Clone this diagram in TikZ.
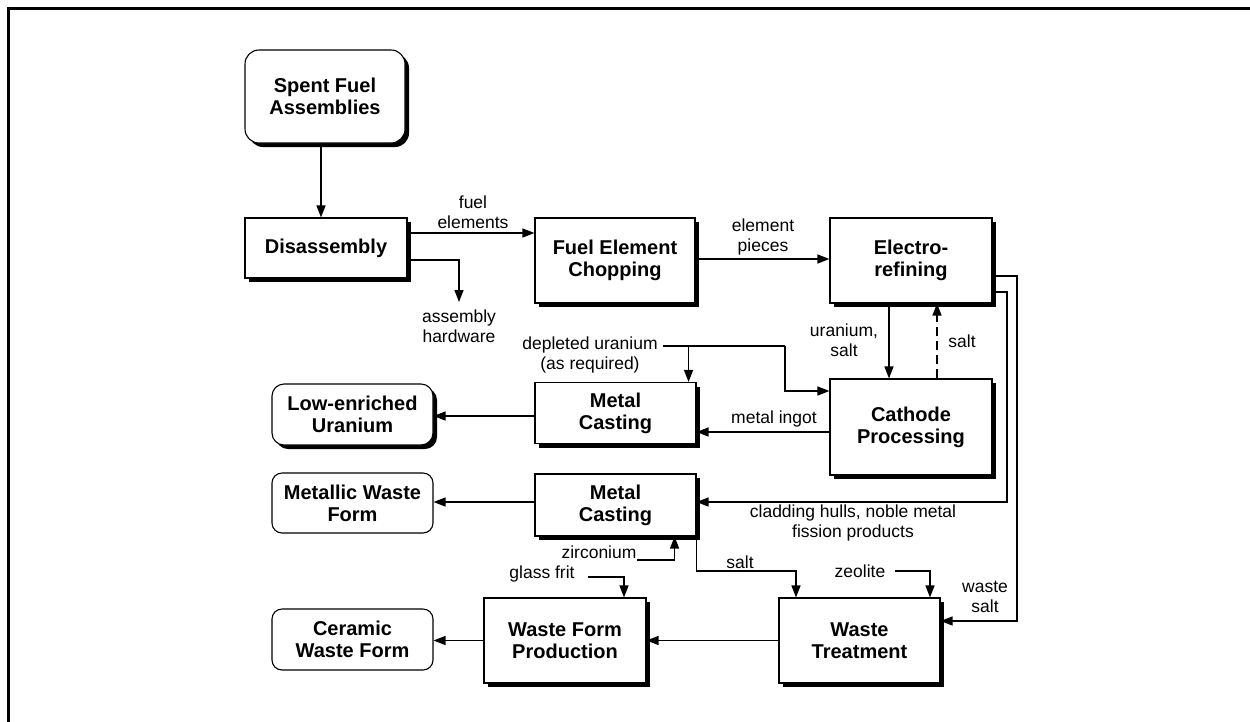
\documentclass[tikz,border=0pt]{standalone}
\usepackage{fontspec}
\setmainfont{Liberation Sans}
\usetikzlibrary{shadows,arrows.meta}
\newcommand\tfnt{\fontsize{20}{22}\selectfont\bfseries}
\newcommand\lfnt{\fontsize{17.5}{19.5}\selectfont}
\tikzset{
  box/.style={draw, line width=1.1pt, fill=white, align=center, font=\tfnt, minimum width=161pt, inner sep=0pt},
  sh/.style={drop shadow={shadow xshift=4pt,shadow yshift=-4pt,opacity=1,fill=black}},
  lbl/.style={align=center, inner sep=0pt, font=\lfnt},
  arr/.style={line width=1.4pt, -{Triangle[length=12pt,width=9pt]}},
}
\begin{document}
\begin{tikzpicture}[x=1pt,y=-1pt]
\useasboundingbox (0,0) rectangle (1250,721);
\draw[line width=3pt] (8.5,725) -- (8.5,8.5) -- (1255,8.5);

% boxes
\node[box,sh,rounded corners=14pt,minimum width=160pt,minimum height=93pt] (spent) at (325,96.5) {Spent Fuel\\Assemblies};
\node[box,sh,minimum width=162pt,minimum height=60pt] (dis) at (326,248) {Disassembly};
\node[box,sh,minimum width=160pt,minimum height=85pt] (chop) at (615,260.5) {Fuel Element\\Chopping};
\node[box,sh,minimum width=162pt,minimum height=85pt] (elec) at (911,260.5) {Electro-\\refining};
\node[box,sh,minimum width=162pt,minimum height=96pt] (cath) at (911,427) {Cathode\\Processing};
\node[box,sh,minimum height=61pt] (mc1) at (615.5,413) {Metal\\Casting};
\node[box,sh,rounded corners=12pt,minimum height=61pt] (leu) at (352.5,414.5) {Low-enriched\\Uranium};
\node[box,rounded corners=10pt,minimum height=60pt] (mwf) at (352.5,503) {Metallic Waste\\Form};
\node[box,sh,minimum height=62pt] (mc2) at (615.5,505) {Metal\\Casting};
\node[box,rounded corners=10pt,minimum height=61pt] (cwf) at (352.5,639.5) {Ceramic\\Waste Form};
\node[box,sh,minimum width=162pt,minimum height=85pt] (wfp) at (565,640.5) {Waste Form\\Production};
\node[box,sh,minimum height=85pt] (wt) at (859.5,640.5) {Waste\\Treatment};

% labels
\node[lbl] (lfe) at (473,212) {fuel\\elements};
\node[lbl] (lah) at (459,326) {assembly\\hardware};
\node[lbl] (lep) at (763,237) {element\\pieces};
\node[lbl] (lus) at (844,340) {uranium,\\salt};
\node[lbl] (ls1) at (962,341) {salt};
\node[lbl] (ldu) at (590,355) {depleted uranium\\(as required)};
\node[lbl] (lmi) at (774,419) {metal ingot};
\node[lbl] (lch) at (853,523) {cladding hulls, noble metal\\fission products};
\node[lbl] (lws) at (985,597) {waste\\salt};
\node[lbl] (lzr) at (599,552) {zirconium};
\node[lbl] (lsa) at (740,562) {salt};
\node[lbl] (lze) at (860,571) {zeolite};
\node[lbl] (lgf) at (542,574) {glass frit};

\coordinate (hw) at (459,302);
\coordinate (du) at (663,346);
\coordinate (zr) at (637,560);
\coordinate (zeo) at (895,571);
\coordinate (gf) at (588,577);

% connectors
\draw[arr] ([xshift=-4pt]spent.south) -- ([xshift=-5pt]dis.north);
\draw[arr] ([yshift=15pt]dis.east) -- ([yshift=15pt]dis.east -| chop.west);
\draw[arr] ([yshift=-12pt]dis.east) -| (hw);
\draw[arr] ([yshift=1.5pt]chop.east) -- ([yshift=1.5pt]elec.west);
\draw[arr] ([xshift=-22pt]elec.south) -- ([xshift=-22pt]cath.north);
\draw[arr,dashed,dash pattern=on 9pt off 5pt] ([xshift=26pt]cath.north) -- ([xshift=26pt]elec.south);
\draw[line width=1.4pt] (du) -- (785,346);
\draw[arr] (785,346) |- ([yshift=36pt]cath.west);
\draw[arr] ([xshift=-8pt]mc1.north east |- du) -- ([xshift=-8pt]mc1.north east);
\draw[arr] ([yshift=-5pt]cath.west) -- ([yshift=-5pt]cath.west -| mc1.east);
\draw[arr] ([yshift=-3pt]mc1.west) -- ([yshift=-3pt]mc1.west -| leu.east);
\draw[arr] ([yshift=-15.5pt]elec.east) -| (1017,621) -- ([yshift=19.5pt]wt.east);
\draw[arr] ([yshift=-31.5pt]elec.east) -| (1007,502) -- ([yshift=3pt]mc2.east);
\draw[arr] ([yshift=3pt]mc2.west) -- ([yshift=3pt]mc2.west -| mwf.east);
\draw[arr] (zr) -| ([xshift=-22pt]mc2.south east);
\draw[arr] ([yshift=-3pt]mc2.south east) |- (796,571) -- ([xshift=-63.5pt]wt.north);
\draw[arr] (zeo) -| ([xshift=70.5pt]wt.north);
\draw[arr] (gf) -| ([xshift=59pt]wfp.north);
\draw[arr] (wt.west) -- (wfp.east);
\draw[arr] (wfp.west) -- (wfp.west -| cwf.east);
\end{tikzpicture}
\end{document}
